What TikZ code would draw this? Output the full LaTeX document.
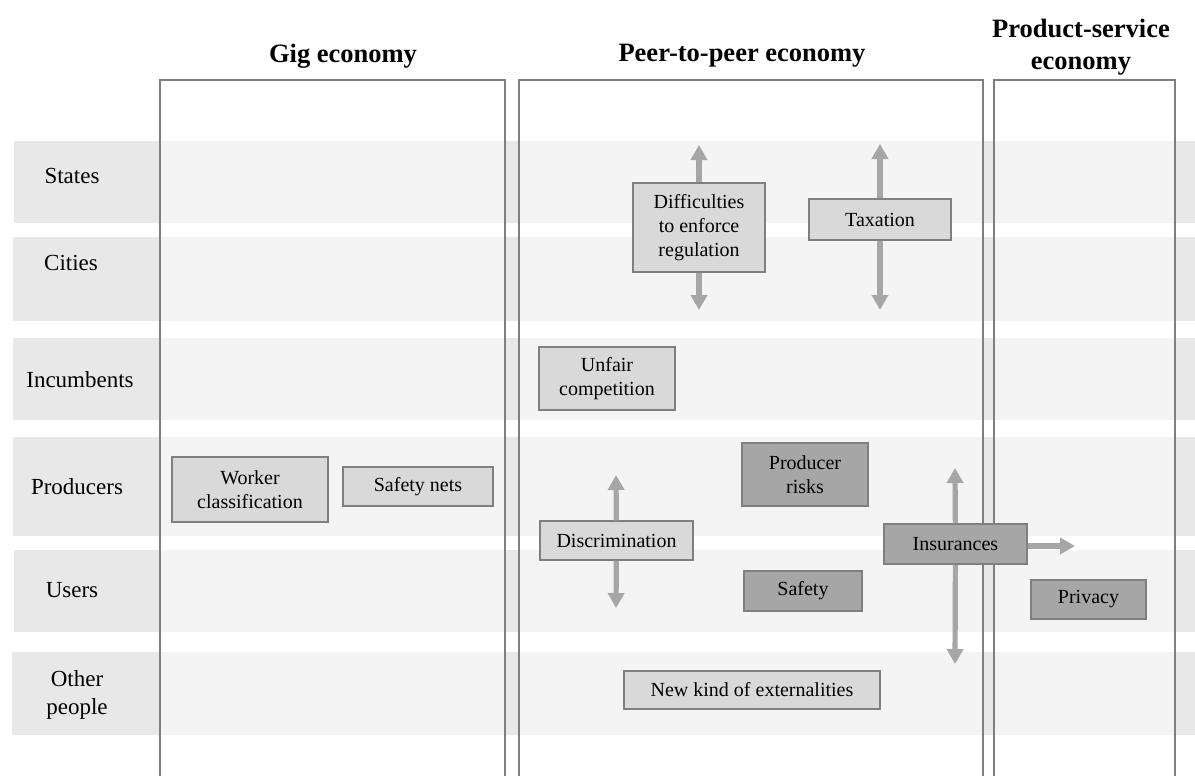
\documentclass[tikz,border=0pt]{standalone}
\usepackage{fontspec}
\setmainfont{Liberation Serif}
\usepackage{xcolor}
\usepackage{tikz}
\usetikzlibrary{arrows.meta}
\definecolor{bandgray}{HTML}{E8E8E8}
\definecolor{framegray}{HTML}{7F7F7F}
\definecolor{lightbox}{HTML}{D9D9D9}
\definecolor{darkbox}{HTML}{A6A6A6}
\definecolor{arrowgray}{HTML}{A6A6A6}

\begin{document}
\begin{tikzpicture}[
        x=0.5pt, y=-0.5pt,
        band/.style={fill=bandgray},
        colfill/.style={fill=white, fill opacity=0.56},
        column/.style={draw=framegray, line width=1pt},
        header/.style={align=center, font=\fontsize{13.25}{16}\selectfont\bfseries},
        actor/.style={align=center, font=\fontsize{11.5}{14}\selectfont},
        issue/.style={rectangle, draw=framegray, line width=0.75pt, fill=lightbox, align=center, inner sep=0pt, font=\fontsize{10}{12}\selectfont},
        hardissue/.style={issue, fill=darkbox},
        arrow/.style={-{Triangle[length=7.5pt,width=8pt]}, line width=2.6pt, draw=arrowgray}
    ]
        \useasboundingbox (0,0) rectangle (1195,776);

        \fill[band] (14,141) rectangle (1195,223);
        \fill[band] (13,237) rectangle (1195,321);
        \fill[band] (13,338) rectangle (1195,420);
        \fill[band] (13,437) rectangle (1195,536);
        \fill[band] (14,550) rectangle (1195,632);
        \fill[band] (12,652) rectangle (1195,735);

        \fill[colfill] (160,80) rectangle (505,776);
        \fill[colfill] (519,80) rectangle (983,776);
        \fill[colfill] (994,80) rectangle (1175,776);
        \draw[column] (160,776) |- (505,80) -- (505,776);
        \draw[column] (519,776) |- (983,80) -- (983,776);
        \draw[column] (994,776) |- (1175,80) -- (1175,776);

        \node[header] (gig) at (343,56) {Gig economy};
        \node[header] (p2p) at (742,56) {Peer-to-peer economy};
        \node[header] (pse) at (1081,47) {Product-service\\economy};

        \node[actor] (states) at (72,176) {States};
        \node[actor] (cities) at (71,263) {Cities};
        \node[actor] (incumbents) at (80,380) {Incumbents};
        \node[actor] (producers) at (77,487) {Producers};
        \node[actor] (users) at (72,590) {Users};
        \node[actor] (others) at (77,695) {Other\\people};

        \coordinate (diffup) at (699,145);
        \coordinate (diffdown) at (699,310);
        \coordinate (taxup) at (880,144);
        \coordinate (taxdown) at (880,310);
        \coordinate (discrup) at (616,475);
        \coordinate (discrdown) at (616,608);
        \coordinate (insup) at (955,468);
        \coordinate (insdown) at (955,664);
        \coordinate (insright) at (1075,546);

        \node[issue, minimum width=66pt, minimum height=44.5pt] (diff) at (699,227.5) {Difficulties\\to enforce\\regulation};
        \node[issue, minimum width=71pt, minimum height=20.5pt] (tax) at (880,219.5) {Taxation};
        \node[issue, minimum width=68pt, minimum height=31.5pt] (unfair) at (607,378.5) {Unfair\\competition};
        \node[issue, minimum width=78pt, minimum height=32.5pt] (worker) at (250,489.5) {Worker\\classification};
        \node[issue, minimum width=75pt, minimum height=19.5pt] (nets) at (418,486.5) {Safety nets};
        \node[hardissue, minimum width=63pt, minimum height=31.5pt] (prisks) at (805,474.5) {Producer\\risks};
        \node[issue, minimum width=76.5pt, minimum height=19.5pt] (discr) at (616.5,540.5) {Discrimination};
        \node[hardissue, minimum width=71.5pt, minimum height=20pt] (ins) at (955.5,544) {Insurances};
        \node[hardissue, minimum width=59pt, minimum height=20pt] (safety) at (803,591) {Safety};
        \node[hardissue, minimum width=57.5pt, minimum height=19.5pt] (privacy) at (1088.5,599.5) {Privacy};
        \node[issue, minimum width=128pt, minimum height=19pt] (extern) at (752,690) {New kind of externalities};

        \draw[arrow] (diff) -- (diffup);
        \draw[arrow] (diff) -- (diffdown);
        \draw[arrow] (tax) -- (taxup);
        \draw[arrow] (tax) -- (taxdown);
        \draw[arrow] (discr) -- (discrup);
        \draw[arrow] (discr) -- (discrdown);
        \draw[arrow] (ins) -- (insup);
        \draw[arrow] (ins) -- (insdown);
        \draw[arrow] (ins.east |- insright) -- (insright);
    \end{tikzpicture}
\end{document}
